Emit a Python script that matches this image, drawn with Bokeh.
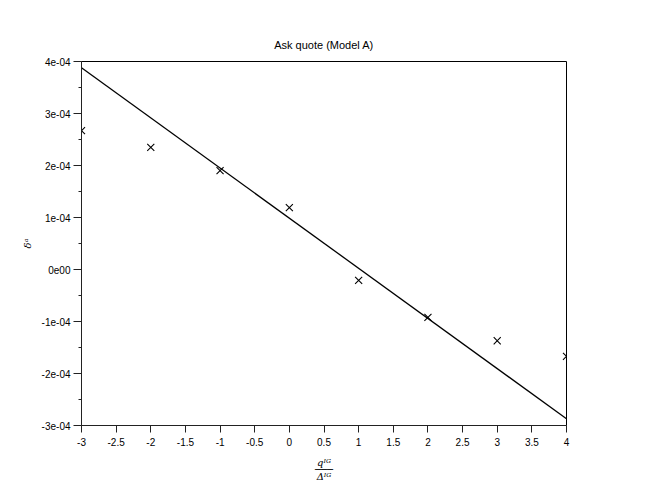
import numpy as np
from bokeh.plotting import figure
from bokeh.models import FixedTicker, Range1d
from bokeh.embed import file_html
from bokeh.resources import INLINE

# ---- data ----
x_vals = [-3, -2, -1, 0, 1, 2, 3, 4]
y_vals = [2.67e-4, 2.35e-4, 1.90e-4, 1.19e-4, -0.21e-4, -0.92e-4, -1.37e-4, -1.67e-4]
fit_x = [-3, 4]
fit_y = [3.88e-4, -2.87e-4]

x_ticks = [-3, -2.5, -2, -1.5, -1, -0.5, 0, 0.5, 1, 1.5, 2, 2.5, 3, 3.5, 4]
x_tick_labels = ["-3", "-2.5", "-2", "-1.5", "-1", "-0.5", "0", "0.5", "1",
                 "1.5", "2", "2.5", "3", "3.5", "4"]
y_ticks = [-3e-4, -2e-4, -1e-4, 0.0, 1e-4, 2e-4, 3e-4, 4e-4]
y_tick_labels = ["-3e-04", "-2e-04", "-1e-04", "0e00", "1e-04", "2e-04", "3e-04", "4e-04"]
y_minor_ticks = [-2.5e-4, -1.5e-4, -0.5e-4, 0.5e-4, 1.5e-4, 2.5e-4, 3.5e-4]

title_text = "Ask quote (Model A)"
y_label_text = "δᵃ"
x_label_text = "qᴵᴳ\n───\nΔᴵᴳ"

W, H = 648, 489

# ---- figure ----
p = figure(width=W, height=H, output_backend="svg", toolbar_location=None,
           x_range=Range1d(-3, 4), y_range=Range1d(-3e-4, 4e-4),
           min_border_left=81, min_border_right=82, min_border_top=61,
           min_border_bottom=64, title=title_text)
p.grid.visible = False
p.outline_line_color = "black"
p.outline_line_width = 1
p.background_fill_color = "white"
p.border_fill_color = "white"

p.title.align = "center"
p.title.text_font = "Liberation Sans"
p.title.text_font_size = "11px"
p.title.text_font_style = "normal"
p.title.text_color = "black"
p.title.standoff = 22

p.xaxis.ticker = FixedTicker(ticks=x_ticks)
p.xaxis.major_label_overrides = {t: l for t, l in zip(x_ticks, x_tick_labels)}
p.yaxis.ticker = FixedTicker(ticks=y_ticks, minor_ticks=y_minor_ticks)
p.yaxis.major_label_overrides = {t: l for t, l in zip(y_ticks, y_tick_labels)}

for ax in (p.xaxis[0], p.yaxis[0]):
    ax.axis_line_color = "#222222"
    ax.axis_line_width = 1
    ax.major_tick_line_color = "#222222"
    ax.minor_tick_line_color = "#222222"
    ax.major_tick_in = 0
    ax.minor_tick_in = 0
    ax.major_label_text_font = "Liberation Sans"
    ax.major_label_text_font_size = "10px"
    ax.major_label_text_color = "black"

p.xaxis.major_tick_out = 7
p.xaxis.minor_tick_out = 0
p.xaxis.major_label_standoff = 5
p.yaxis.major_tick_out = 8
p.yaxis.minor_tick_out = 3
p.yaxis.major_label_standoff = 3

p.yaxis.axis_label = y_label_text
p.yaxis.axis_label_text_font = "DejaVu Serif"
p.yaxis.axis_label_text_font_style = "italic"
p.yaxis.axis_label_text_font_size = "10px"
p.yaxis.axis_label_text_color = "black"
p.yaxis.axis_label_standoff = 6

p.xaxis.axis_label = x_label_text
p.xaxis.axis_label_text_font = "DejaVu Serif"
p.xaxis.axis_label_text_font_style = "italic"
p.xaxis.axis_label_text_font_size = "10px"
p.xaxis.axis_label_text_color = "black"
p.xaxis.axis_label_text_line_height = 0.65
p.xaxis.axis_label_standoff = 8

# ---- marks ----
p.line(fit_x, fit_y, line_color="black", line_width=1.3)
p.scatter(x_vals, y_vals, marker="x", size=10, line_color="black", line_width=1.1)

open("out.html", "w").write(file_html(p, INLINE))
